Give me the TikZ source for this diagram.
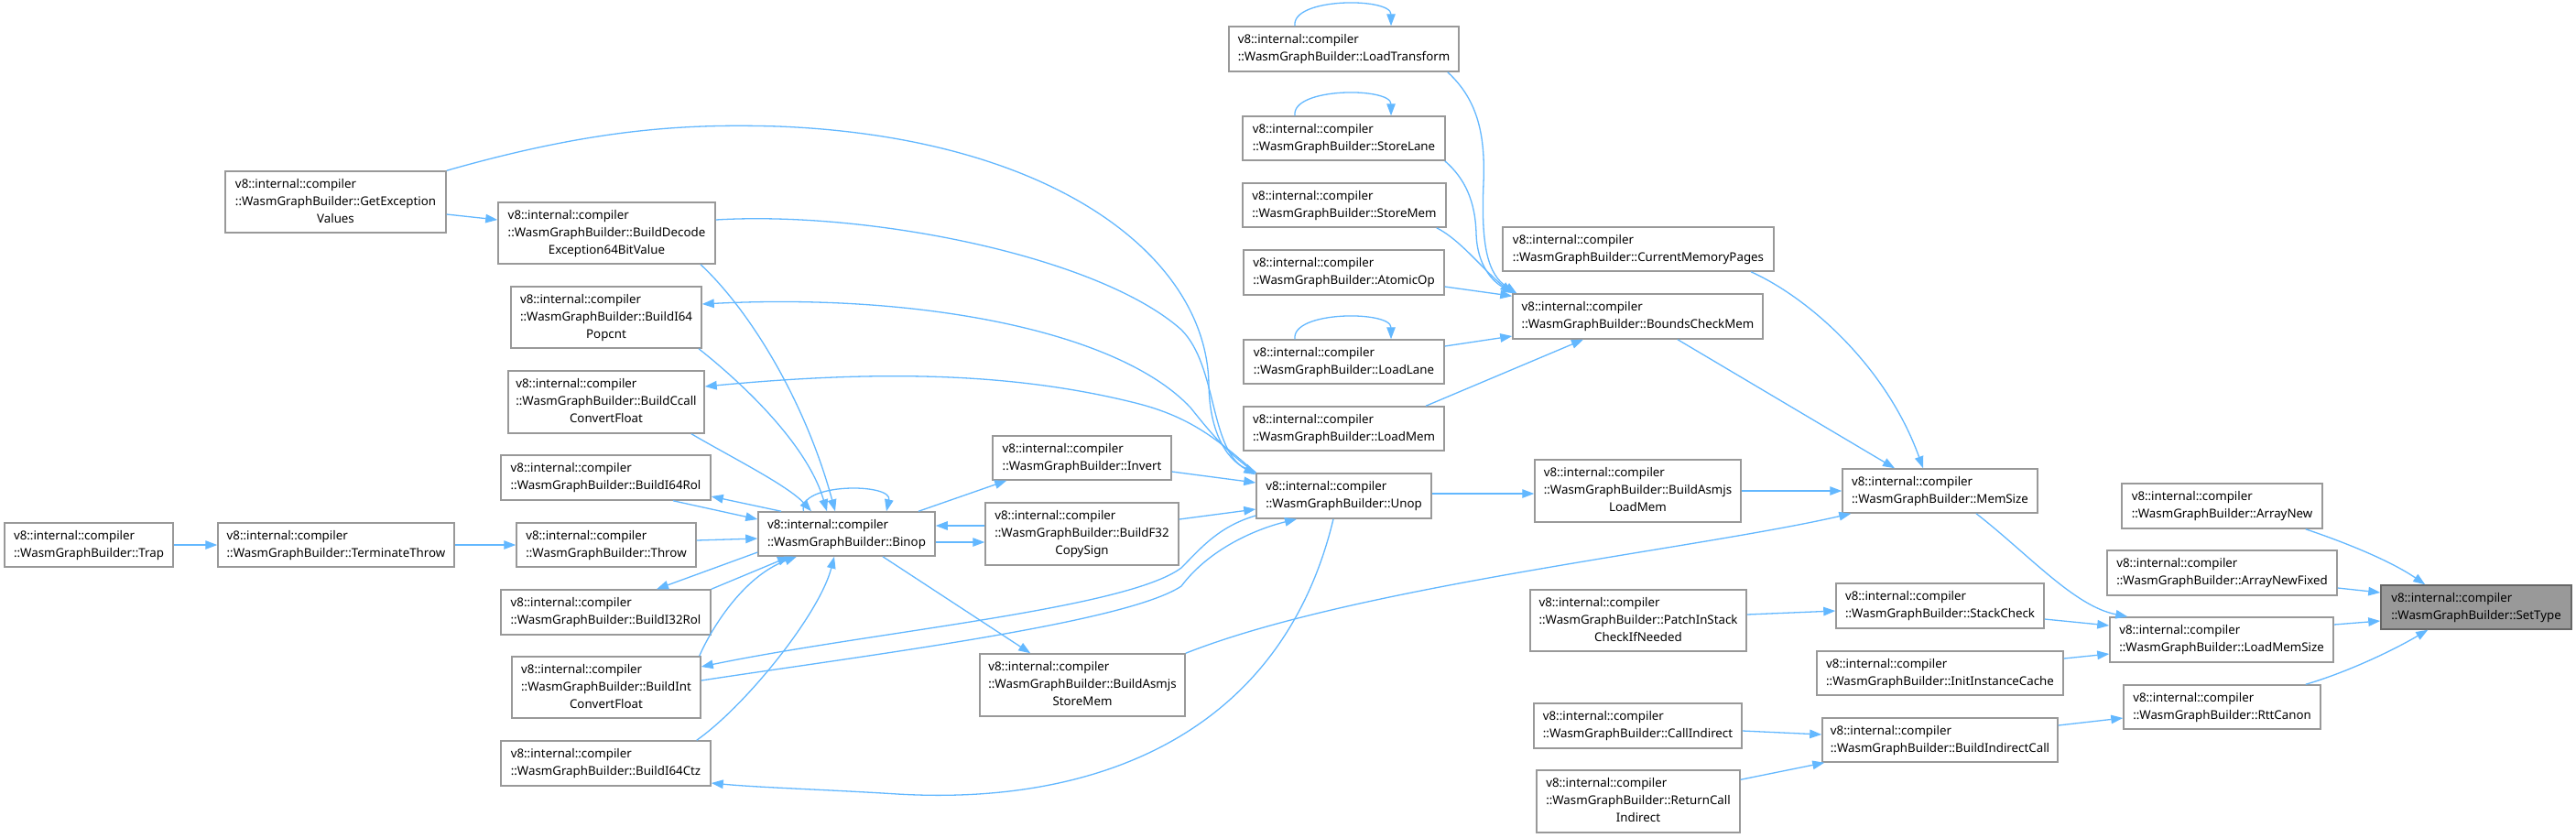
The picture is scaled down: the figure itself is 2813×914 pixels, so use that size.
\documentclass[tikz,border=0pt]{standalone}
\usepackage{fontspec}
\setmainfont{Noto Sans}
\usetikzlibrary{arrows.meta}
\definecolor{edgeblue}{HTML}{63B8FF}
\definecolor{boxgray}{HTML}{999999}
\definecolor{rootborder}{HTML}{666666}
\newcommand\twoL[1]{\begin{tabular}{@{}l@{}}v8::internal::compiler\\#1\end{tabular}}
\newcommand\threeL[2]{\begin{tabular}{@{}l@{}}v8::internal::compiler\\#1\\\multicolumn{1}{@{}c@{}}{#2}\end{tabular}}
\tikzset{
 nd/.style={draw=boxgray, line width=1.5pt, fill=white, inner sep=0pt, font=\fontsize{13.3}{19}\selectfont, text=black},
 rootnd/.style={nd, fill=boxgray, draw=rootborder},
 sz/.style 2 args={minimum width=#1pt, minimum height=#2pt},
 cedge/.style={draw=edgeblue, line width=1.3pt, -{Triangle[length=13pt,width=9.5pt]}},
}
\begin{document}
\begin{tikzpicture}[x=1pt,y=-1pt]
\useasboundingbox (0,0) rectangle (2813,914);
\fill[white] (0,0) rectangle (2813,914);
% nodes
\node[nd, sz={184}{48}] (trap) at (97,595) {\twoL{::WasmGraphBuilder::Trap}};
\node[nd, sz={258}{48}] (term) at (367,595) {\twoL{::WasmGraphBuilder::TerminateThrow}};
\node[nd, sz={241}{67}] (getexc) at (366.5,220.5) {\threeL{::WasmGraphBuilder::GetException}{Values}};
\node[nd, sz={237}{67}] (decode) at (662.5,254.5) {\threeL{::WasmGraphBuilder::BuildDecode}{Exception64BitValue}};
\node[nd, sz={208}{67}] (popcnt) at (662,346.5) {\threeL{::WasmGraphBuilder::BuildI64}{Popcnt}};
\node[nd, sz={214}{68}] (ccall) at (662,439) {\threeL{::WasmGraphBuilder::BuildCcall}{ConvertFloat}};
\node[nd, sz={229}{49}] (i64rol) at (661.5,521.5) {\twoL{::WasmGraphBuilder::BuildI64Rol}};
\node[nd, sz={196}{48}] (throw) at (662,595) {\twoL{::WasmGraphBuilder::Throw}};
\node[nd, sz={229}{49}] (i32rol) at (661.5,668.5) {\twoL{::WasmGraphBuilder::BuildI32Rol}};
\node[nd, sz={206}{67}] (intconv) at (662,750.5) {\threeL{::WasmGraphBuilder::BuildInt}{ConvertFloat}};
\node[nd, sz={229}{49}] (i64ctz) at (661.5,833.5) {\twoL{::WasmGraphBuilder::BuildI64Ctz}};
\node[nd, sz={193}{48}] (binop) at (924.5,583) {\twoL{::WasmGraphBuilder::Binop}};
\node[nd, sz={195}{48}] (invert) at (1181.5,500) {\twoL{::WasmGraphBuilder::Invert}};
\node[nd, sz={211}{68}] (copysign) at (1181.5,583) {\threeL{::WasmGraphBuilder::BuildF32}{CopySign}};
\node[nd, sz={224}{68}] (asmstore) at (1182,748) {\threeL{::WasmGraphBuilder::BuildAsmjs}{StoreMem}};
\node[nd, sz={191}{49}] (unop) at (1467.5,541.5) {\twoL{::WasmGraphBuilder::Unop}};
\node[nd, sz={251}{49}] (loadtr) at (1467.5,53.5) {\twoL{::WasmGraphBuilder::LoadTransform}};
\node[nd, sz={221}{48}] (storelane) at (1467.5,151) {\twoL{::WasmGraphBuilder::StoreLane}};
\node[nd, sz={222}{48}] (storemem) at (1468,224) {\twoL{::WasmGraphBuilder::StoreMem}};
\node[nd, sz={219}{49}] (atomic) at (1467.5,297.5) {\twoL{::WasmGraphBuilder::AtomicOp}};
\node[nd, sz={219}{48}] (loadlane) at (1467.5,395) {\twoL{::WasmGraphBuilder::LoadLane}};
\node[nd, sz={219}{48}] (loadmem) at (1467.5,468) {\twoL{::WasmGraphBuilder::LoadMem}};
\node[nd, sz={296}{48}] (curmem) at (1789,272) {\twoL{::WasmGraphBuilder::CurrentMemoryPages}};
\node[nd, sz={273}{49}] (bounds) at (1788.5,345.5) {\twoL{::WasmGraphBuilder::BoundsCheckMem}};
\node[nd, sz={225}{68}] (asmload) at (1788.5,536) {\threeL{::WasmGraphBuilder::BuildAsmjs}{LoadMem}};
\node[nd, sz={236}{67}] (patch) at (1789,677.5) {\threeL{::WasmGraphBuilder::PatchInStack}{CheckIfNeeded}};
\node[nd, sz={227}{49}] (callind) at (1788.5,792.5) {\twoL{::WasmGraphBuilder::CallIndirect}};
\node[nd, sz={222}{68}] (retcall) at (1789,875) {\threeL{::WasmGraphBuilder::ReturnCall}{Indirect}};
\node[nd, sz={213}{48}] (memsize) at (2118.5,536) {\twoL{::WasmGraphBuilder::MemSize}};
\node[nd, sz={227}{49}] (stack) at (2118.5,661.5) {\twoL{::WasmGraphBuilder::StackCheck}};
\node[nd, sz={269}{48}] (initcache) at (2118.5,735) {\twoL{::WasmGraphBuilder::InitInstanceCache}};
\node[nd, sz={257}{48}] (indcall) at (2118.5,808) {\twoL{::WasmGraphBuilder::BuildIndirectCall}};
\node[nd, sz={219}{49}] (arraynew) at (2426.5,552.5) {\twoL{::WasmGraphBuilder::ArrayNew}};
\node[nd, sz={251}{49}] (arrayfixed) at (2426.5,625.5) {\twoL{::WasmGraphBuilder::ArrayNewFixed}};
\node[nd, sz={244}{49}] (loadmemsize) at (2426,698.5) {\twoL{::WasmGraphBuilder::LoadMemSize}};
\node[nd, sz={215}{48}] (rtt) at (2426.5,772) {\twoL{::WasmGraphBuilder::RttCanon}};
\node[rootnd, sz={208}{48}] (settype) at (2704,663) {\twoL{::WasmGraphBuilder::SetType}};
% edges left part
\draw[cedge] (trap.east) -- (term.west);
\draw[cedge] (term.east) -- (throw.west);
\draw[cedge] ([yshift=-13.5pt]getexc.east) -- ([yshift=14.5pt]decode.west);
\draw[cedge] ([yshift=5pt]throw.east) -- ([yshift=-5pt]binop.west);
\draw[cedge] ([xshift=73.5pt]i64rol.south) -- ([yshift=16pt]binop.west);
\draw[cedge] ([xshift=-71.5pt]binop.north) -- ([yshift=-20.5pt]i64rol.east);
\draw[cedge] ([yshift=-20pt]binop.west) -- ([xshift=55.5pt]i32rol.north);
\draw[cedge] (i32rol.north east) -- ([xshift=-62.5pt]binop.south);
\draw[cedge] ([xshift=-2pt]intconv.north east) .. controls (775,690) and (810,630) .. ([xshift=-54.5pt]binop.south);
\draw[cedge] ([xshift=-16pt]i64ctz.north east) .. controls (815,770) and (895,670) .. ([xshift=-13.5pt]binop.south);
\draw[cedge] ([xshift=102.5pt]decode.south) .. controls (820,340) and (880,440) .. ([xshift=-12.5pt]binop.north);
\draw[cedge] ([xshift=101pt]popcnt.south) .. controls (800,410) and (880,480) .. ([xshift=-21.5pt]binop.north);
\draw[cedge] ([xshift=93pt]ccall.south) .. controls (800,500) and (860,530) .. ([xshift=-38.5pt]binop.north);
\draw[cedge] ([xshift=-47pt]binop.north) .. controls (870,527) and (975,527) .. ([xshift=43.5pt]binop.north);
\draw[cedge] ([xshift=78.5pt]binop.north) -- ([xshift=16pt]invert.south west);
\draw[cedge] ([yshift=-9pt]binop.east) -- ([yshift=-9pt]copysign.west);
\draw[cedge] ([yshift=9pt]copysign.west) -- ([yshift=9pt]binop.east);
\draw[cedge] ([xshift=39.5pt]binop.south) -- ([xshift=56pt]asmstore.north west);
\draw[cedge] ([yshift=-15pt]invert.east) -- ([yshift=14.5pt]unop.west);
\draw[cedge] ([yshift=16pt]copysign.east) -- ([yshift=-14.5pt]unop.west);
% edges around Unop
\draw[cedge] (getexc.north east) .. controls (650,140) and (750,135) .. (850,138) .. controls (1150,150) and (1318,280) .. (1320,420) .. controls (1321,480) and (1345,505) .. ([xshift=1pt]unop.north west);
\draw[cedge] ([yshift=14.5pt]decode.east) .. controls (950,230) and (1200,280) .. (1290,360) .. controls (1330,400) and (1320,490) .. ([yshift=-2pt]unop.north west);
\draw[cedge] (unop.north west) .. controls (1340,495) and (1320,470) .. (1300,445) .. controls (1220,360) and (1000,320) .. ([yshift=14.5pt]popcnt.east);
\draw[cedge] (unop.north west) .. controls (1330,480) and (1300,455) .. (1240,440) .. controls (1100,405) and (950,405) .. ([yshift=17pt]ccall.east);
\draw[cedge] ([yshift=-21.5pt]unop.west) .. controls (1330,575) and (1310,600) .. (1290,620) .. controls (1230,665) and (950,690) .. ([yshift=22.5pt]intconv.east);
\draw[cedge] ([yshift=7.5pt]intconv.east) .. controls (950,715) and (1230,680) .. (1290,640) .. controls (1320,600) and (1370,578) .. ([xshift=-51.5pt]unop.south);
\draw[cedge] ([xshift=-11.5pt]unop.south) .. controls (1400,800) and (1200,880) .. (980,867) .. controls (900,862) and (830,860) .. ([yshift=-21.5pt]i64ctz.east);
\draw[cedge] ([yshift=2.5pt]unop.east) -- ([yshift=-3pt]asmload.west);
% edges into BoundsCheckMem
\draw[cedge] ([xshift=-13pt]loadtr.south east) .. controls (1615,110) and (1622,150) .. (1620,200) .. controls (1617,270) and (1625,300) .. ([xshift=5pt]bounds.north west);
\draw[cedge] ([xshift=-1pt]storelane.south east) .. controls (1600,195) and (1611,220) .. (1612,255) .. controls (1613,290) and (1630,308) .. ([xshift=3pt]bounds.north west);
\draw[cedge] ([xshift=-11pt]storemem.south east) .. controls (1595,262) and (1620,295) .. (bounds.north west);
\draw[cedge] ([yshift=-15.5pt]atomic.east) -- ([yshift=-3pt]bounds.north west);
\draw[cedge] ([yshift=17pt]loadlane.east) -- ([yshift=-21.5pt]bounds.west);
\draw[cedge] ([xshift=89.5pt]loadmem.north) -- ([xshift=-59.5pt]bounds.south);
% self loops
\draw[cedge] ([xshift=-53.5pt]loadtr.north) .. controls (1410,-3) and (1519,-3) .. ([xshift=51.5pt]loadtr.north);
\draw[cedge] ([xshift=-53.5pt]storelane.north) .. controls (1410,95) and (1519,95) .. ([xshift=51.5pt]storelane.north);
\draw[cedge] ([xshift=-53.5pt]loadlane.north) .. controls (1410,339) and (1519,339) .. ([xshift=51.5pt]loadlane.north);
% into MemSize
\draw[cedge] (asmload.east) -- (memsize.west);
\draw[cedge] (asmstore.north east) .. controls (1480,640) and (1850,600) .. ([xshift=10pt]memsize.south west);
\draw[cedge] ([xshift=43.5pt]bounds.south) -- ([xshift=-49.5pt]memsize.north);
\draw[cedge] ([xshift=123pt]curmem.south) .. controls (1975,325) and (2060,400) .. ([xshift=-18.5pt]memsize.north);
% right part
\draw[cedge] ([xshift=39.5pt]memsize.south) .. controls (2215,605) and (2265,662) .. ([xshift=20pt]loadmemsize.north west);
\draw[cedge] ([yshift=-14.5pt]stack.east) -- ([yshift=15.5pt]loadmemsize.west);
\draw[cedge] ([yshift=16pt]initcache.east) -- ([yshift=-15.5pt]loadmemsize.west);
\draw[cedge] ([yshift=16pt]indcall.east) -- ([yshift=-12pt]rtt.west);
\draw[cedge] ([yshift=6.5pt]patch.east) -- ([yshift=-5.5pt]stack.west);
\draw[cedge] ([yshift=-5.5pt]callind.east) -- ([yshift=6pt]indcall.west);
\draw[cedge] ([yshift=-11pt]retcall.north east) -- ([xshift=3pt]indcall.south west);
\draw[cedge] ([xshift=-19pt]arraynew.south east) .. controls (2560,592) and (2610,612) .. ([xshift=49pt]settype.north west);
\draw[cedge] ([yshift=-16.5pt]arrayfixed.east) -- ([yshift=16pt]settype.west);
\draw[cedge] ([yshift=16.5pt]loadmemsize.east) -- ([yshift=-15pt]settype.west);
\draw[cedge] ([xshift=-17pt]rtt.north east) .. controls (2560,735) and (2610,712) .. ([xshift=52pt]settype.south west);
\end{tikzpicture}
\end{document}
